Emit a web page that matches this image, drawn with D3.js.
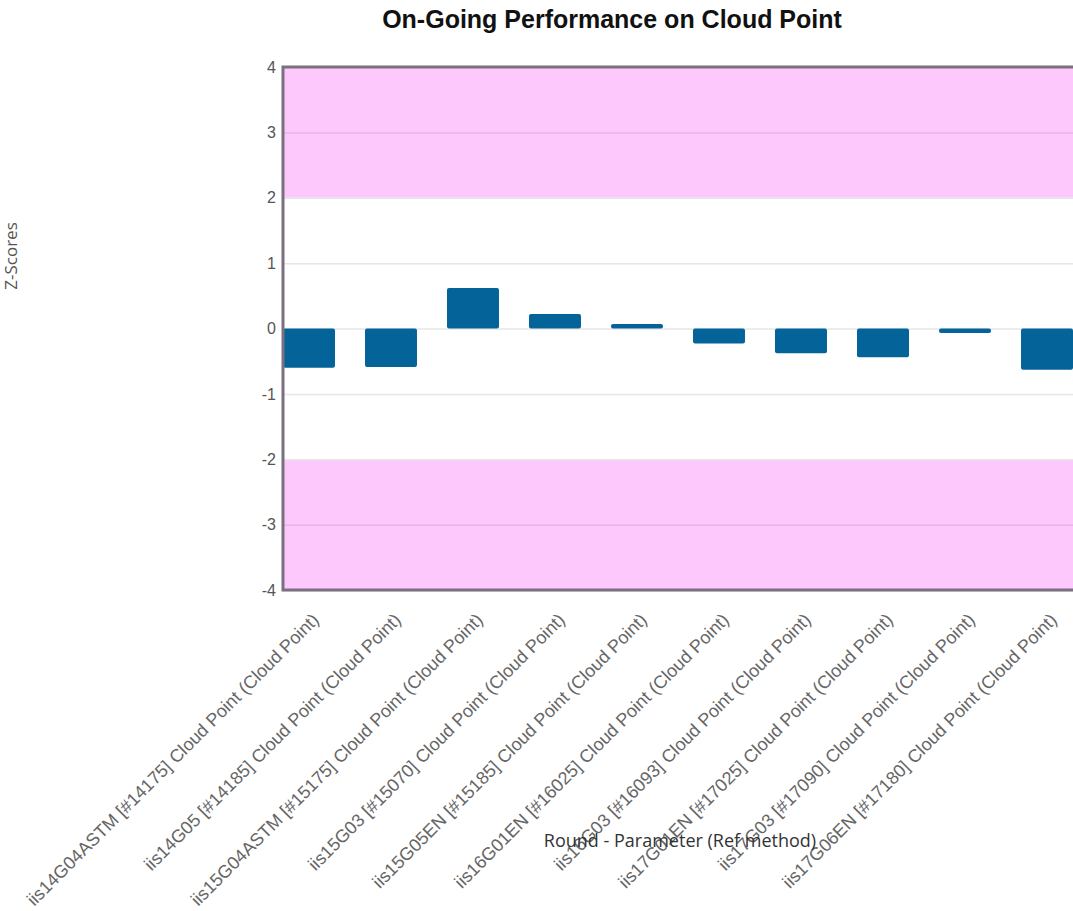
<!DOCTYPE html>
<html>
<head>
<meta charset="utf-8">
<script src="https://cdn.jsdelivr.net/npm/d3@7"></script>
<style>
body { margin: 0; background: #fff; }
svg { display: block; }
</style>
</head>
<body>
<div id="chart"></div>
<script>
const categories = [
  "iis14G04ASTM [#14175] Cloud Point (Cloud Point)",
  "iis14G05 [#14185] Cloud Point (Cloud Point)",
  "iis15G04ASTM [#15175] Cloud Point (Cloud Point)",
  "iis15G03 [#15070] Cloud Point (Cloud Point)",
  "iis15G05EN [#15185] Cloud Point (Cloud Point)",
  "iis16G01EN [#16025] Cloud Point (Cloud Point)",
  "iis16G03 [#16093] Cloud Point (Cloud Point)",
  "iis17G01EN [#17025] Cloud Point (Cloud Point)",
  "iis17G03 [#17090] Cloud Point (Cloud Point)",
  "iis17G06EN [#17180] Cloud Point (Cloud Point)"
];
const zScores = [-0.60, -0.59, 0.62, 0.22, 0.07, -0.23, -0.38, -0.44, -0.07, -0.63];
const yTicks = [4, 3, 2, 1, 0, -1, -2, -3, -4];
const bands = [[2, 4], [-4, -2]];

const width = 1073;
const height = 911;
const margin = {top: 67, right: 0, bottom: 321, left: 283};
const labelFont = "'Liberation Sans', Arial, sans-serif";

const svg = d3.select("#chart")
  .append("svg")
  .attr("width", width)
  .attr("height", height);

const x = d3.scaleBand()
  .domain(categories)
  .range([margin.left, width - margin.right])
  .paddingInner(0.366)
  .paddingOuter(0);

const y = d3.scaleLinear()
  .domain([-4, 4])
  .range([height - margin.bottom, margin.top]);

// pink out-of-range bands
svg.selectAll("rect.band")
  .data(bands)
  .enter()
  .append("rect")
  .attr("class", "band")
  .attr("x", margin.left)
  .attr("width", width - margin.left - margin.right)
  .attr("y", d => y(d[1]))
  .attr("height", d => y(d[0]) - y(d[1]))
  .attr("fill", "#fdc9fd");

// grid
svg.append("g")
  .selectAll("line")
  .data(yTicks)
  .enter()
  .append("line")
  .attr("x1", margin.left)
  .attr("x2", width - margin.right)
  .attr("y1", d => y(d) + 0.5)
  .attr("y2", d => y(d) + 0.5)
  .attr("stroke", d => Math.abs(d) > 2 ? "#e9b5e9" : "#e6e6e6")
  .attr("stroke-width", 1.5);

// bars
svg.selectAll("rect.bar")
  .data(zScores)
  .enter()
  .append("rect")
  .attr("class", "bar")
  .attr("x", (d, i) => x(categories[i]))
  .attr("width", x.bandwidth())
  .attr("y", d => y(Math.max(0, d)))
  .attr("height", d => Math.abs(y(d) - y(0)))
  .attr("rx", 2)
  .attr("fill", "#04649a");

// plot border
svg.append("path")
  .attr("d", `M${width},${y(4)} H${margin.left} V${y(-4)} H${width}`)
  .attr("fill", "none")
  .attr("stroke", "#7b7080")
  .attr("stroke-width", 3);

// y tick labels
const yAxis = d3.axisLeft(y).tickValues(yTicks).tickSize(0).tickPadding(7)
  .tickFormat(d => String(d));
const gy = svg.append("g")
  .attr("transform", `translate(${margin.left},0)`)
  .call(yAxis);
gy.select(".domain").remove();
gy.selectAll("text")
  .attr("font-family", labelFont)
  .attr("font-size", 16)
  .attr("fill", "#555");

// x labels
const xAxis = d3.axisBottom(x).tickSize(0);
const gx = svg.append("g")
  .attr("transform", `translate(0,${y(-4)})`)
  .call(xAxis);
gx.attr("font-family", labelFont);
gx.select(".domain").remove();
gx.selectAll("text")
  .attr("font-family", labelFont)
  .attr("font-size", 18)
  .attr("fill", "#666")
  .attr("text-anchor", "end")
  .attr("dy", null)
  .attr("y", null)
  .attr("transform", "translate(11,31) rotate(-45)");

// title
svg.append("text")
  .attr("x", 612)
  .attr("y", 28)
  .attr("text-anchor", "middle")
  .attr("font-family", labelFont)
  .attr("font-size", 25)
  .attr("font-weight", "bold")
  .attr("fill", "#111")
  .text("On-Going Performance on Cloud Point");

// axis titles
svg.append("text")
  .attr("transform", `translate(17,256) rotate(-90)`)
  .attr("text-anchor", "middle")
  .attr("font-family", "'Open Sans', sans-serif")
  .attr("font-size", 17)
  .attr("fill", "#555")
  .text("Z-Scores");

svg.append("text")
  .attr("x", 680)
  .attr("y", 847)
  .attr("text-anchor", "middle")
  .attr("font-family", "'Open Sans', sans-serif")
  .attr("font-size", 18)
  .attr("fill", "#333")
  .text("Round - Parameter (Ref method)");
</script>
</body>
</html>
